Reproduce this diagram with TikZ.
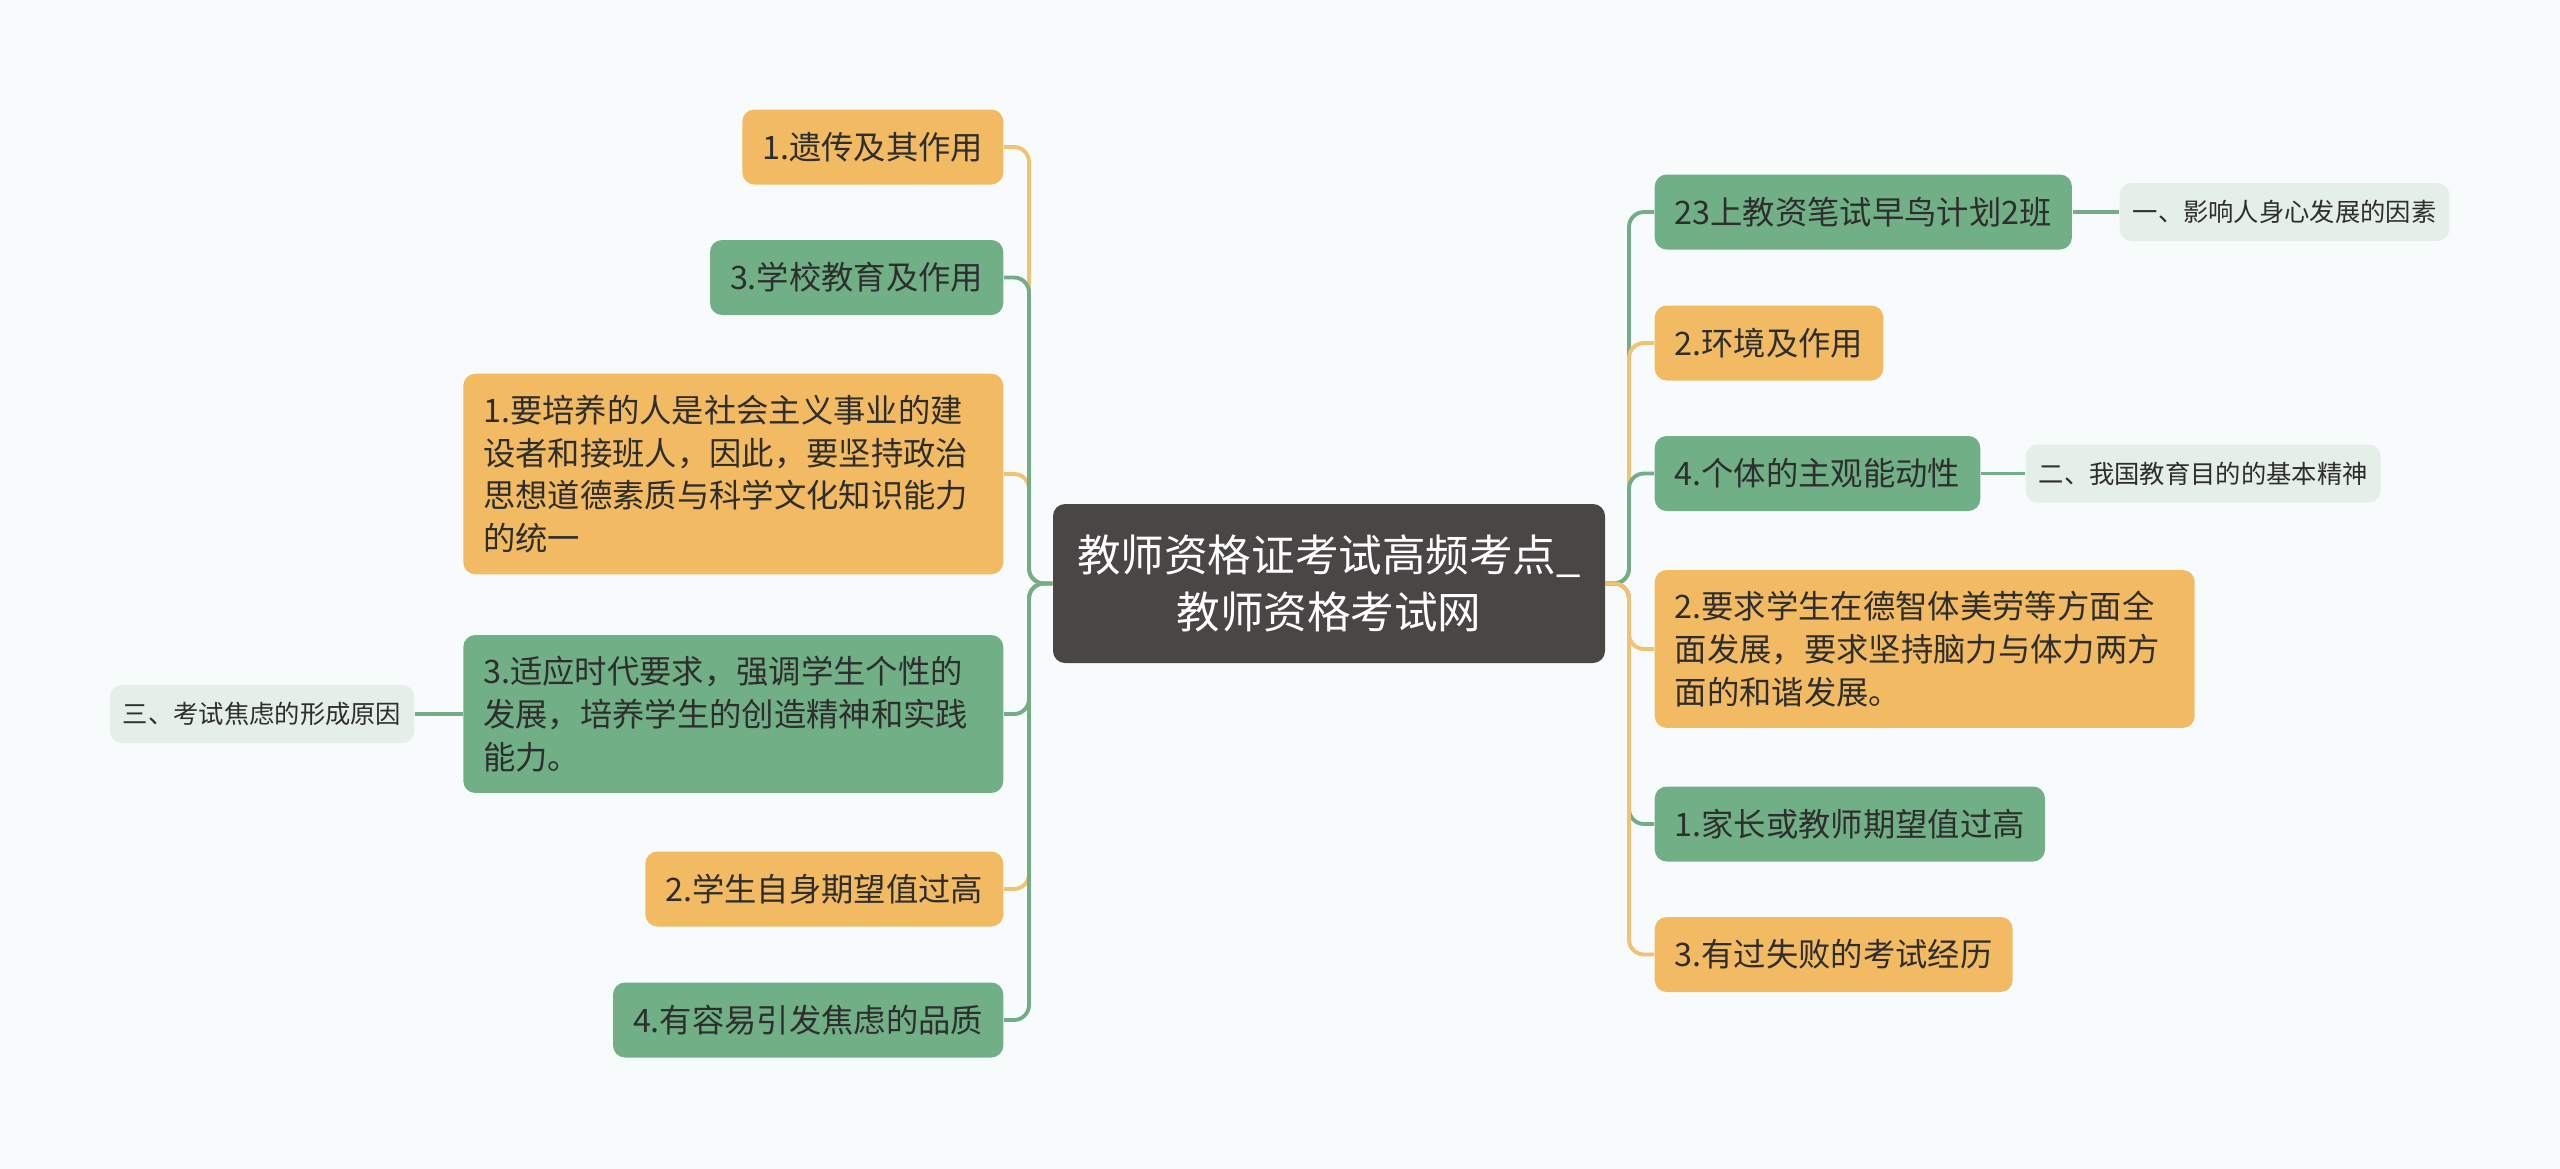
\documentclass[tikz,border=0pt]{standalone}
\usepackage{fontspec}
\newfontfamily\cjk{Noto Sans CJK SC}
\usepackage{tikz}
\definecolor{mmbg}{HTML}{F7FBFB}
\definecolor{mmroot}{HTML}{4B4646}
\definecolor{mmorange}{HTML}{F2BB63}
\definecolor{mmgreen}{HTML}{71AF86}
\definecolor{mmlight}{HTML}{E4EFE7}
\definecolor{mmtext}{HTML}{2E2E2E}
\definecolor{mmlineo}{HTML}{F1C273}
\definecolor{mmlineg}{HTML}{72AD87}
\tikzset{
    leaf/.style={rounded corners=0.12cm, text=mmtext, inner xsep=0.2cm, inner ysep=0.21cm,
        minimum height=0.75cm, align=left, font=\cjk\fontsize{9.2}{12.2}\selectfont},
    longleaf/.style={leaf, text width=5.0cm},
    orangebox/.style={leaf, fill=mmorange},
    greenbox/.style={leaf, fill=mmgreen},
    notebox/.style={rounded corners=0.12cm, fill=mmlight, text=mmtext, inner xsep=0.13cm,
        minimum height=0.58cm, font=\cjk\fontsize{7.2}{9}\selectfont},
    rootbox/.style={rounded corners=0.12cm, fill=mmroot, text=white, align=center,
        minimum width=5.52cm, minimum height=1.59cm, font=\cjk\fontsize{12.4}{16.2}\selectfont},
    oline/.style={draw=mmlineo, line width=1.1pt, rounded corners=0.15cm},
    gline/.style={draw=mmlineg, line width=1.1pt, rounded corners=0.15cm},
}

\begin{document}
\begin{tikzpicture}
    \useasboundingbox (0,0) rectangle (25.6,-11.69);
    \fill[mmbg] (0,0) rectangle (25.6,-11.69);
    % Centre
        \node[rootbox] (root) at (13.29,-5.835) {教师资格证考试高频考点\_\\教师资格考试网};
        \coordinate (lbus) at (10.29,-5.835);
        \coordinate (rbus) at (16.29,-5.835);
    % Left side
        \node[orangebox, anchor=east] (L1) at (10.04,-1.47) {1.遗传及其作用};
        \node[greenbox, anchor=east] (L2) at (10.04,-2.775) {3.学校教育及作用};
        \node[orangebox, longleaf, anchor=east] (L3) at (10.04,-4.74) {1.要培养的人是社会主义事业的建\\设者和接班人，因此，要坚持政治\\思想道德素质与科学文化知识能力\\的统一};
        \node[greenbox, longleaf, anchor=east] (L4) at (10.04,-7.14) {3.适应时代要求，强调学生个性的\\发展，培养学生的创造精神和实践\\能力。};
        \node[notebox, anchor=east] (L4c) at (4.15,-7.14) {三、考试焦虑的形成原因};
        \node[orangebox, anchor=east] (L5) at (10.04,-8.89) {2.学生自身期望值过高};
        \node[greenbox, anchor=east] (L6) at (10.04,-10.2) {4.有容易引发焦虑的品质};
        \draw[oline] (root.west) -- (lbus) |- (L1.east);
        \draw[oline] (root.west) -- (lbus) |- (L3.east);
        \draw[gline] (root.west) -- (lbus) |- (L2.east);
        \draw[gline] (root.west) -- (lbus) |- (L4.east);
        \draw[oline] (root.west) -- (lbus) |- (L5.east);
        \draw[gline] (root.west) -- (lbus) |- (L6.east);
        \draw[gline] (L4c.east) -- (L4.west);
    % Right side
        \node[greenbox, anchor=west] (R1) at (16.54,-2.12) {23上教资笔试早鸟计划2班};
        \node[notebox, anchor=west] (R1c) at (21.19,-2.12) {一、影响人身心发展的因素};
        \node[orangebox, anchor=west] (R2) at (16.54,-3.43) {2.环境及作用};
        \node[greenbox, anchor=west] (R3) at (16.54,-4.735) {4.个体的主观能动性};
        \node[notebox, anchor=west] (R3c) at (20.25,-4.735) {二、我国教育目的的基本精神};
        \node[orangebox, longleaf, anchor=west] (R4) at (16.54,-6.49) {2.要求学生在德智体美劳等方面全\\面发展，要求坚持脑力与体力两方\\面的和谐发展。};
        \node[greenbox, anchor=west] (R5) at (16.54,-8.24) {1.家长或教师期望值过高};
        \node[orangebox, anchor=west] (R6) at (16.54,-9.545) {3.有过失败的考试经历};
        \draw[gline] (root.east) -- (rbus) |- (R1.west);
        \draw[oline] (root.east) -- (rbus) |- (R2.west);
        \draw[gline] (root.east) -- (rbus) |- (R3.west);
        \draw[oline] (root.east) -- (rbus) |- (R4.west);
        \draw[gline] (root.east) -- (rbus) |- (R5.west);
        \draw[oline] (root.east) -- (rbus) |- (R6.west);
        \draw[gline] (R1.east) -- (R1c.west);
        \draw[gline] (R3.east) -- (R3c.west);
\end{tikzpicture}
\end{document}
